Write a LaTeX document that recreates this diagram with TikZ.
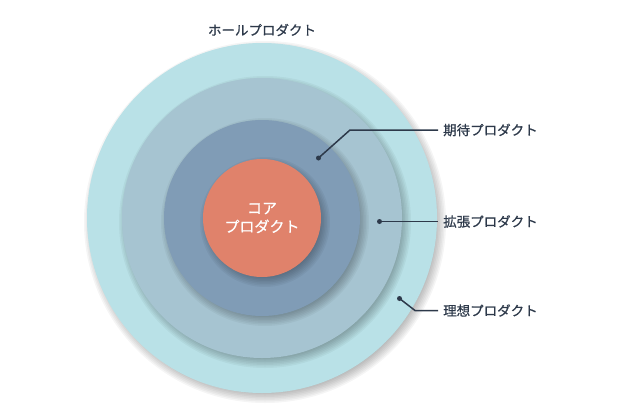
\documentclass[tikz,border=0pt]{standalone}
\usepackage{fontspec}
\setmainfont[FakeBold=0.6,AutoFakeBold=0.6]{Noto Sans CJK JP}
\definecolor{wholec}{HTML}{B9E1E7}
\definecolor{augc}{HTML}{A6C4D1}
\definecolor{expc}{HTML}{809CB6}
\definecolor{corec}{HTML}{E0826B}
\definecolor{ink}{HTML}{2D394A}
\newcommand\SoftShadow[1]{%半径
	\foreach \k in {0,...,7}
		\fill[black,opacity=.04] (\CX+3,\CY+4) circle[radius=#1+6-1.5*\k];}
\begin{document}
\begin{tikzpicture}[x=1pt,y=-1pt,
		ring/.style={circle,inner sep=0pt,minimum size=#1},
		pin/.style={circle,fill=ink,inner sep=0pt,minimum size=5pt},
		lab/.style={anchor=west,inner xsep=5pt,text=ink,font=\fontsize{13.5}{16}\selectfont\bfseries},
		lead/.style={draw=ink,line width=1.5pt}]
	\useasboundingbox (0,0) rectangle (644,415);
	\def\CX{262}%中心
	\def\CY{218}
	% 同心円
	\SoftShadow{175}
	\node[ring=350pt,fill=wholec] (whole) at (\CX,\CY) {};
	\SoftShadow{140}
	\node[ring=280pt,fill=augc] (aug) at (\CX,\CY) {};
	\SoftShadow{98}
	\node[ring=196pt,fill=expc] (exp) at (\CX,\CY) {};
	\SoftShadow{59}
	\node[ring=118pt,fill=corec,text=white,align=center,font=\fontsize{15}{18.5}\selectfont\bfseries] (core) at (\CX,\CY) {コア\\プロダクト};
	\node[text=ink,font=\fontsize{13.5}{16}\selectfont\bfseries] (wholelab) at (\CX,30) {ホールプロダクト};
	% 引き出し線
	\node[pin] (exppin) at (318.5,158) {};
	\node[pin] (augpin) at (379.5,221.5) {};
	\node[pin] (idpin) at (399.5,298.5) {};
	\coordinate (expbend) at (350,130);
	\coordinate (idbend) at (415,310.5);
	\node[lab] (explab) at (438,130) {期待プロダクト};
	\node[lab] (auglab) at (438,221.5) {拡張プロダクト};
	\node[lab] (idlab) at (438,310.5) {理想プロダクト};
	\draw[lead] (exppin.center)--(expbend)--(explab.west);
	\draw[lead] (augpin.center)--(auglab.west);
	\draw[lead] (idpin.center)--(idbend)--(idlab.west);
\end{tikzpicture}
\end{document}
